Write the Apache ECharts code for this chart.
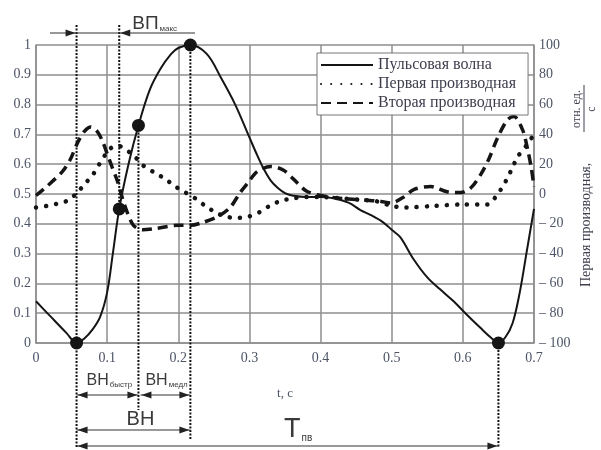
<!DOCTYPE html>
<html>
<head>
<meta charset="utf-8">
<script src="https://cdn.jsdelivr.net/npm/echarts@6/dist/echarts.min.js"></script>
<style>
  html, body { margin: 0; padding: 0; background: #fff; }
  #chart { width: 601px; height: 450px; }
</style>
</head>
<body>
<div id="chart"></div>
<script>
  // pulse wave, left axis (relative units)
  const pulseT = [0, 0.02, 0.043, 0.057, 0.068, 0.079, 0.09, 0.1, 0.108, 0.117, 0.13, 0.144, 0.16, 0.175, 0.19, 0.2,
    0.217, 0.24, 0.26, 0.28, 0.3, 0.31, 0.32, 0.33, 0.34, 0.35, 0.36, 0.38, 0.4, 0.42, 0.44, 0.456, 0.47, 0.488, 0.5,
    0.512, 0.531, 0.55, 0.568, 0.587, 0.606, 0.625, 0.64, 0.65, 0.66, 0.67, 0.68, 0.69, 0.7];
  const pulseV = [0.14, 0.09, 0.033, 0, 0.015, 0.044, 0.087, 0.17, 0.3, 0.45, 0.6, 0.73, 0.85, 0.92, 0.97, 0.99,
    1, 0.97, 0.89, 0.8, 0.69, 0.635, 0.585, 0.545, 0.52, 0.503, 0.495, 0.49, 0.49, 0.485, 0.47, 0.446, 0.43, 0.405, 0.38,
    0.355, 0.28, 0.22, 0.18, 0.14, 0.094, 0.05, 0.017, 0, 0.02, 0.067, 0.17, 0.31, 0.45];

  // first derivative, right axis
  const d1T = [0, 0.015, 0.03, 0.044, 0.056, 0.069, 0.08, 0.089, 0.1, 0.11, 0.118, 0.126, 0.139, 0.151, 0.168, 0.182,
    0.196, 0.21, 0.224, 0.238, 0.255, 0.27, 0.285, 0.3, 0.315, 0.33, 0.345, 0.36, 0.38, 0.4, 0.43, 0.46, 0.48, 0.5,
    0.52, 0.56, 0.6, 0.635, 0.646, 0.656, 0.663, 0.67, 0.677, 0.69, 0.7];
  const d1V = [-9, -8, -6.5, -4.5, 0, 7, 13, 20, 28, 32, 32, 30, 25, 19, 14, 10,
    5, 1, -3, -8, -13, -15.5, -16, -15, -12, -7.5, -4.5, -3, -2, -2, -3, -4, -5, -8,
    -9, -8, -7, -7, -2, 5, 11, 18, 25, 33, 40];

  // second derivative, right axis
  const d2T = [0, 0.015, 0.037, 0.048, 0.059, 0.068, 0.077, 0.086, 0.093, 0.1, 0.107, 0.115, 0.121, 0.128, 0.137,
    0.15, 0.17, 0.2, 0.217, 0.235, 0.256, 0.273, 0.287, 0.297, 0.311, 0.33, 0.348, 0.362, 0.38, 0.4, 0.43, 0.46,
    0.485, 0.499, 0.517, 0.531, 0.555, 0.578, 0.597, 0.611, 0.625, 0.637, 0.649, 0.663, 0.672, 0.684, 0.691, 0.696, 0.7];
  const d2V = [-1, 5, 15, 23, 35, 42, 45, 42, 36, 27, 18, 8, -2, -12, -21,
    -24, -23, -21, -21, -19, -15, -9, 1, 7, 15, 18.5, 16, 10, 2, -1, -3, -4,
    -5, -6, -2, 3, 5, 1.5, 1, 4, 13, 24, 38, 50, 52, 43, 30, 18, 5];

  // marked points on the pulse wave
  const keyT = [0.057, 0.117, 0.144, 0.217, 0.65];
  const keyV = [0, 0.45, 0.73, 1, 0];

  const seriesNames = ['Пульсовая волна', 'Первая производная', 'Вторая производная'];

  const serif = 'Liberation Serif';
  const sans = 'Liberation Sans';
  const labelColor = '#4d5466';
  const gridColor = '#8e8e8e';
  const ink = '#151515';

  const zip = (a, b) => a.map((v, i) => [v, b[i]]);

  let myChart = echarts.init(document.getElementById('chart'));
  let option = {
    animation: false,
    backgroundColor: '#fff',
    grid: { left: 36, right: 67, top: 45, bottom: 107 },
    legend: {
      data: seriesNames,
      orient: 'vertical',
      left: 317,
      top: 53,
      padding: [4, 12, 4, 3],
      itemGap: 3,
      itemWidth: 52,
      itemHeight: 14,
      itemStyle: { opacity: 0 },
      backgroundColor: '#fff',
      borderColor: '#777',
      borderWidth: 1,
      borderRadius: 0,
      z: 10,
      textStyle: { fontFamily: serif, fontSize: 16, color: '#3e3e4e' }
    },
    xAxis: {
      type: 'value',
      min: 0,
      max: 0.7,
      interval: 0.1,
      name: 't, c',
      nameLocation: 'middle',
      nameGap: 44,
      nameTextStyle: { fontFamily: serif, fontSize: 13, color: labelColor },
      axisLine: { lineStyle: { color: gridColor, width: 1.5 } },
      axisTick: { show: false },
      axisLabel: { fontFamily: serif, fontSize: 14, color: labelColor, margin: 8 },
      splitLine: { show: true, lineStyle: { color: gridColor, width: 1.5 } }
    },
    yAxis: [
      {
        type: 'value',
        min: 0,
        max: 1,
        interval: 0.1,
        axisLine: { show: true, lineStyle: { color: gridColor, width: 1.5 } },
        axisTick: { show: false },
        axisLabel: { fontFamily: serif, fontSize: 14, color: labelColor, margin: 5 },
        splitLine: { show: true, lineStyle: { color: gridColor, width: 1.5 } }
      },
      {
        type: 'value',
        min: -100,
        max: 100,
        interval: 20,
        position: 'right',
        axisLine: { show: true, lineStyle: { color: gridColor, width: 1.5 } },
        axisTick: { show: false },
        axisLabel: {
          fontFamily: serif, fontSize: 14, color: labelColor, margin: 5,
          formatter: v => v < 0 ? '– ' + Math.abs(v) : String(v)
        },
        splitLine: { show: false }
      }
    ],
    series: [
      {
        name: seriesNames[0],
        type: 'line',
        yAxisIndex: 0,
        data: zip(pulseT, pulseV),
        smooth: 0.35,
        symbol: 'none',
        lineStyle: { color: ink, width: 2 },
        itemStyle: { color: ink },
        z: 4
      },
      {
        name: seriesNames[1],
        type: 'line',
        yAxisIndex: 1,
        data: zip(d1T, d1V),
        smooth: 0.3,
        symbol: 'none',
        lineStyle: { color: ink, width: 4.5, type: [0.1, 10], cap: 'round' },
        itemStyle: { color: ink },
        z: 3
      },
      {
        name: seriesNames[2],
        type: 'line',
        yAxisIndex: 1,
        data: zip(d2T, d2V),
        smooth: 0.3,
        symbol: 'none',
        lineStyle: { color: ink, width: 3.5, type: [10, 6] },
        itemStyle: { color: ink },
        z: 3
      },
      {
        name: 'points',
        type: 'scatter',
        yAxisIndex: 0,
        data: zip(keyT, keyV),
        symbolSize: 13,
        itemStyle: { color: ink, opacity: 1 },
        z: 6
      }
    ]
  };
  myChart.setOption(option);

  // annotations: dotted verticals, dimension arrows and labels, placed from key points
  const p = keyT.map((t, i) => myChart.convertToPixel({ xAxisIndex: 0, yAxisIndex: 0 }, [t, keyV[i]]));

  function vline(x, y1, y2) {
    return { type: 'line', z: 8, shape: { x1: x, y1: y1, x2: x, y2: y2 },
      style: { stroke: '#111', lineWidth: 2, lineDash: [2, 1.5] } };
  }
  function hline(x1, x2, y) {
    return { type: 'line', z: 8, shape: { x1: x1, y1: y, x2: x2, y2: y },
      style: { stroke: '#333', lineWidth: 1.2 } };
  }
  function head(x, y, dir) {
    return { type: 'polygon', z: 9,
      shape: { points: [[x, y], [x - dir * 10, y - 3.5], [x - dir * 10, y + 3.5]] },
      style: { fill: '#222' } };
  }
  function dim(x1, x2, y) {
    return [hline(x1, x2, y), head(x1 + 1, y, -1), head(x2 - 1, y, 1)];
  }
  function label(x, y, main, sub, size, subSize) {
    return {
      type: 'text', z: 9, x: x, y: y,
      style: {
        text: '{m|' + main + '}{s|' + sub + '}',
        align: 'left', verticalAlign: 'bottom',
        rich: {
          m: { fontFamily: sans, fontSize: size, fill: '#3a3a3a', verticalAlign: 'bottom', lineHeight: size },
          s: { fontFamily: sans, fontSize: subSize, fill: '#3a3a3a', verticalAlign: 'bottom', lineHeight: size, padding: [0, 0, 0, 1] }
        }
      }
    };
  }

  const yBottom = 448;
  let g = [
    vline(p[0][0], 25, yBottom),
    vline(p[1][0], 25, p[1][1]),
    vline(p[2][0], p[2][1], 410),
    vline(p[3][0], p[3][1], 440),
    vline(p[4][0], p[4][1], yBottom),
    // ВП макс
    hline(50, 195, 33),
    head(p[0][0] - 1, 33, 1),
    head(p[1][0] + 1, 33, -1),
    label(p[1][0] + 13, 33, 'ВП', 'макс', 19, 8),
    // ВН быстр / ВН медл
    ...dim(p[0][0], p[2][0], 395),
    ...dim(p[2][0] + 2, p[3][0], 395),
    label(p[0][0] + 10, 389, 'ВН', 'быстр', 16, 8),
    label(p[2][0] + 7, 389, 'ВН', 'медл', 16, 8),
    // ВН
    ...dim(p[0][0], p[3][0], 430),
    { type: 'text', z: 9, x: (p[0][0] + p[3][0]) / 2 + 7, y: 429,
      style: { text: 'ВН', fontFamily: sans, fontSize: 20, fill: '#3a3a3a', align: 'center', verticalAlign: 'bottom' } },
    // Т пв
    ...dim(p[0][0], p[4][0], 446),
    label(284, 443, 'T', 'пв', 27, 10),
    // right axis name with fraction
    {
      type: 'group', x: 586, y: 287, rotation: Math.PI / 2, z: 9,
      children: [
        { type: 'text', x: 0, y: 0,
          style: { text: 'Первая производная,', fontFamily: serif, fontSize: 14, fill: '#3e3e4e', align: 'left', verticalAlign: 'middle' } },
        { type: 'text', x: 178, y: -3,
          style: { text: 'отн. ед.', fontFamily: serif, fontSize: 12, fill: '#3e3e4e', align: 'center', verticalAlign: 'bottom' } },
        { type: 'line', shape: { x1: 155, y1: -2, x2: 202, y2: -2 }, style: { stroke: '#3e3e4e', lineWidth: 1 } },
        { type: 'text', x: 178, y: 0,
          style: { text: 'с', fontFamily: serif, fontSize: 12, fill: '#3e3e4e', align: 'center', verticalAlign: 'top' } }
      ]
    }
  ];
  myChart.setOption({ graphic: g });
</script>
</body>
</html>
